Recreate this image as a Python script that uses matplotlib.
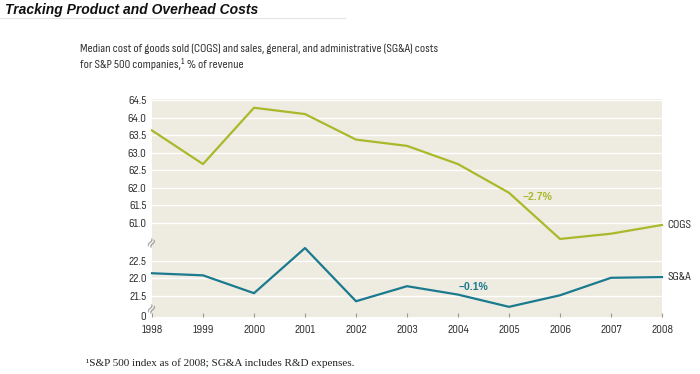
import matplotlib.pyplot as plt
from matplotlib import font_manager
from matplotlib.font_manager import FontProperties
from matplotlib.textpath import TextToPath

years = [1998, 1999, 2000, 2001, 2002, 2003, 2004, 2005, 2006, 2007, 2008]
cogs = [63.63, 62.67, 64.28, 64.10, 63.37, 63.19, 62.67, 61.85, 60.53, 60.68, 60.93]
sga = [22.15, 22.09, 21.58, 22.87, 21.35, 21.78, 21.54, 21.19, 21.52, 22.02, 22.04]

cogs_ticks = [61.0, 61.5, 62.0, 62.5, 63.0, 63.5, 64.0, 64.5]
sga_ticks = [21.5, 22.0, 22.5]

subtitle1 = 'Median cost of goods sold (COGS) and sales, general, and administrative (SG&A) costs'
subtitle2 = 'for S&P 500 companies,\u00b9 % of revenue'
footnote = '\u00b9S&P 500 index as of 2008; SG&A includes R&D expenses.'

BG = '#eeebe1'
OLIVE = '#aab92a'
TEAL = '#1a7a8e'
TXT = '#333333'

# reference text is a narrow Helvetica: caps about 8.3 px tall, subtitle ~358 px wide.
# pick the installed face (and size) that comes closest to that
t2p = TextToPath()
cap_target = 8.3 * 72 / 100
w_target = 358 * 72 / 100
best = None
for f in font_manager.fontManager.ttflist:
    if f.style != 'normal' or f.weight not in (400, 'normal', 'regular'):
        continue
    if any(k in f.name for k in ('Serif', 'Mono', 'CJK', 'Math', 'Light', 'Thin')):
        continue
    try:
        p = FontProperties(fname=f.fname, size=10)
        _, hcap, _ = t2p.get_text_width_height_descent('H', p, ismath=False)
        size = 10 * cap_target / hcap
        w, _, _ = t2p.get_text_width_height_descent(subtitle1, FontProperties(fname=f.fname, size=size), ismath=False)
    except Exception:
        continue
    err = abs(w - w_target)
    if best is None or err < best[0]:
        best = (err, f, size)

if best is not None:
    reg = FontProperties(fname=best[1].fname, size=best[2])
else:
    reg = FontProperties(family='Liberation Sans', size=7.5)
bold = FontProperties(family=['Liberation Sans', 'DejaVu Sans'], size=7.5, weight='bold')

W, H = 700, 374
fig = plt.figure(figsize=(7, 3.74), dpi=100)

def box(x0, y0, x1, y1):
    return [x0 / W, 1 - y1 / H, (x1 - x0) / W, (y1 - y0) / H]

ax_top = fig.add_axes(box(152, 99, 662, 240))
ax_bot = fig.add_axes(box(152, 240, 662, 316.5))

for ax in (ax_top, ax_bot):
    ax.set_facecolor(BG)
    for s in ax.spines.values():
        s.set_visible(False)
    ax.set_xlim(1998, 2008)
    ax.tick_params(axis='y', length=0, labelcolor=TXT, pad=4)

ax_top.set_ylim(60.5, 64.53)
ax_bot.set_ylim(20.914, 23.1)

for v in cogs_ticks:
    ax_top.axhline(v, color='white', lw=1, zorder=1)
for v in sga_ticks:
    ax_bot.axhline(v, color='white', lw=1, zorder=1)

ax_top.plot(years, cogs, color=OLIVE, lw=1.6, zorder=3, clip_on=False)
ax_bot.plot(years, sga, color=TEAL, lw=1.6, zorder=3, clip_on=False)

ax_top.set_yticks(cogs_ticks)
ax_top.set_yticklabels([f'{v:.1f}' for v in cogs_ticks], fontproperties=reg)
ax_top.set_xticks([])

ax_bot.set_yticks([20.914] + sga_ticks)
ax_bot.set_yticklabels(['0'] + [f'{v:.1f}' for v in sga_ticks], fontproperties=reg)
ax_bot.set_xticks(years)
ax_bot.set_xticklabels([str(y) for y in years], fontproperties=reg)
ax_bot.tick_params(axis='x', direction='in', length=3, color='#999999',
                   labelcolor=TXT, pad=6)

ax_top.annotate('COGS', (years[-1], cogs[-1]), xytext=(4, 0), textcoords='offset points',
                va='center', ha='left', color=TXT, annotation_clip=False, fontproperties=reg)
ax_bot.annotate('SG&A', (years[-1], sga[-1]), xytext=(4, 0), textcoords='offset points',
                va='center', ha='left', color=TXT, annotation_clip=False, fontproperties=reg)

ax_top.text(2005.56, 61.73, '\u22122.7%', color=OLIVE, ha='center', va='center',
            fontproperties=bold)
ax_bot.text(2004.3, 21.76, '\u22120.1%', color=TEAL, ha='center', va='center',
            fontproperties=bold)

# axis break marks
for py in (242, 308):
    fig.text(152 / W, 1 - py / H, '\u2248', rotation=60, ha='center', va='center',
             fontsize=10, color='#999999')

fig.text(5 / W, 1 - 10 / H, 'Tracking Product and Overhead Costs', fontsize=10,
         fontweight='bold', style='italic', ha='left', va='center', color='#111111',
         family=['Liberation Sans', 'DejaVu Sans'])
fig.add_artist(plt.Line2D([0, 345 / W], [1 - 18 / H, 1 - 18 / H], color='#e4e4e4', lw=0.8))

fig.text(80 / W, 1 - 49 / H, subtitle1, color=TXT, ha='left', va='center', fontproperties=reg)
fig.text(80 / W, 1 - 64 / H, subtitle2, color=TXT, ha='left', va='center', fontproperties=reg)

fig.text(86 / W, 1 - 363 / H, footnote, fontsize=8, color='#222222', ha='left', va='center',
         family=['Liberation Serif', 'DejaVu Serif'])

fig.savefig('out.png', dpi=100)
